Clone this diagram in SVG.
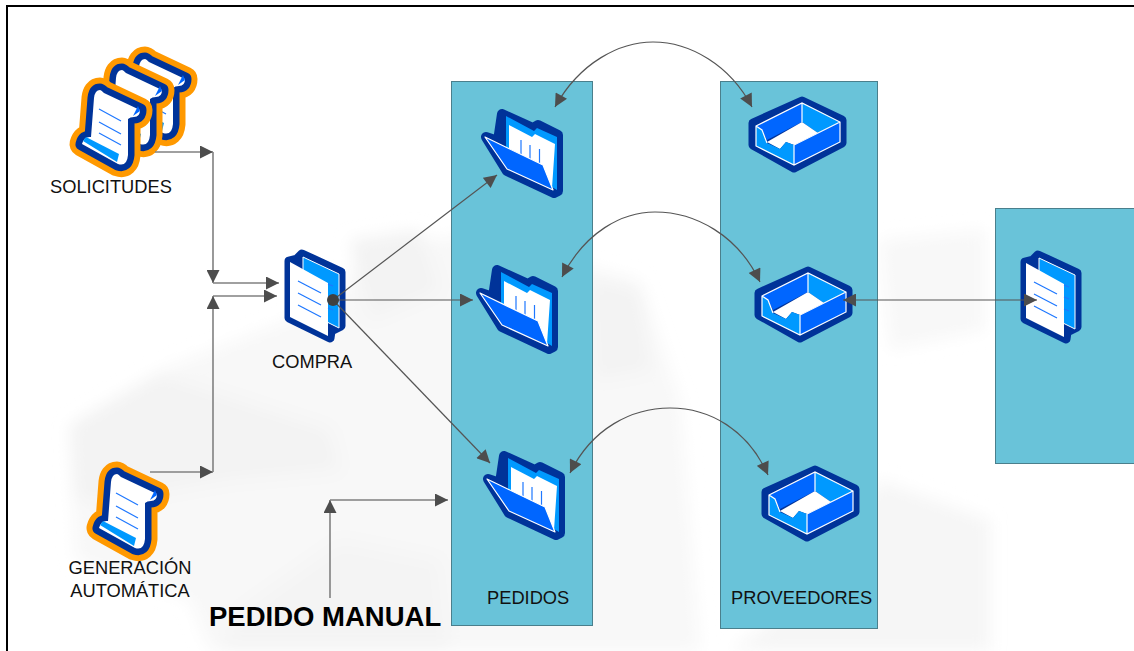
<svg xmlns="http://www.w3.org/2000/svg" width="1134" height="651" viewBox="0 0 1134 651">
<style>
text{font-family:"Liberation Sans",Arial,sans-serif;font-size:18.3px;fill:#111}
.panel{fill:#69c3d9;stroke:#4a7f8c;stroke-width:1}
.c{fill:none;stroke:#555;stroke-width:1.2}
.g{fill:none;stroke:#808080;stroke-width:1.6}
.ln{fill:none;stroke:#1f78ff;stroke-width:1.2}
.dk{fill:#003399;stroke:#003399;stroke-linejoin:round}
</style>
<defs>
<marker id="a" viewBox="0 0 12 12" refX="12" refY="6" markerWidth="14" markerHeight="13" markerUnits="userSpaceOnUse" orient="auto-start-reverse"><path d="M0 0L12 6L0 12Z" fill="#4d4d4d"/></marker>
<filter id="bl" x="-20%" y="-20%" width="140%" height="140%"><feGaussianBlur stdDeviation="8"/></filter>
<path id="sp" d="M37 24Q32 24 31 32L28 71Q21 70 19 78L55 98Q64 101 65 89L65 53Q67 51 71 51Q77 51 77 44L41 27Q38 24 37 24Z"/>
<g id="scroll">
<use href="#sp" fill="#ff9900" stroke="#ff9900" stroke-width="25" stroke-linejoin="round"/>
<use href="#sp" fill="#003399" stroke="#003399" stroke-width="13" stroke-linejoin="round"/>
<use href="#sp" fill="#fff"/>
<path d="M20 75L23 71L56 88L54 96Z" fill="#0099ff"/>
<path d="M70 50L77 45L75 40Z" fill="#0066ff"/>
<path class="ln" d="M36 43L58 55M36 56L58 68M36 67L58 79"/>
</g>
<g id="folder">
<path class="dk" stroke-width="10" d="M42 24L73 38L78 35L98 45L98 101L94 103L47 81L26 47L38 51Z"/>
<path fill="#0099ff" d="M46 26L74 41L77 38L97 47L97 100L46 70Z"/>
<path fill="#fff" d="M49 35L72 47L75 44L95 54L92 98L49 70Z"/>
<path class="ln" stroke-width="1.5" d="M61 50V64M70 55V69M79.500 59V73"/>
<path fill="#0066ff" stroke="#fff" stroke-width="1.200" stroke-linejoin="round" d="M25 47L83 75L93 100L47 79Z"/>
</g>
<g id="tray">
<path class="dk" stroke-width="9" stroke-linejoin="round" d="M67 16L107 35L107 58L59 83L18 60L18 38Z"/>
<path fill="#0066ff" d="M21 41L67 18L67 37L32 55L27 45Z"/>
<path fill="#0099ff" d="M67 18L105 37L83 48L67 37Z"/>
<path fill="#fff" d="M67 37L83 48L59 60L51 57L45 64L32 57Z"/>
<path fill="#0099ff" d="M21 41L27 45L32 58L45 64L51 57L59 60L59 80L21 61Z"/>
<path fill="#0066ff" d="M59 60L105 37L105 57L59 80Z"/>
<path fill="none" stroke="#fff" stroke-width="1.200" d="M21 41L67 18L105 37L105 57L59 80L21 61ZM67 18V37M59 60V80M59 60L105 37M21 41L27 45L32 58"/>
</g>
<g id="doc">
<path class="dk" stroke-width="9" d="M29 31L37 29L42 24L81 42L81 96L71 101L70 108L29 88Z"/>
<path fill="#0099ff" stroke="#fff" stroke-width="1" d="M43 27L79 44L79 98L43 80Z"/>
<path fill="#fff" d="M30 32L68 53L68 106L30 87Z"/>
<path class="ln" d="M38 51L61 63M38 63L61 75M38 75L61 87M68 54L73 56M68 66L73 68M68 78L73 80"/>
</g>
</defs>
<rect width="1134" height="651" fill="#fff"/>
<g id="watermark" filter="url(#bl)">
<path fill="#f8f8f8" d="M360 245L470 235L640 280L680 400L700 651L210 651L190 600L75 560L70 425L160 370L340 300Z"/>
<path fill="#f3f3f3" d="M70 425L160 375L330 430L340 470L230 480L120 500L75 500Z"/>
<path fill="#f3f3f3" d="M350 240L420 230L440 290L370 320Z"/>
<path fill="#f3f3f3" d="M590 280L640 290L650 370L595 380Z"/>
<path fill="#f4f4f4" d="M340 540L440 560L450 651L220 651L240 610Z"/>
<path fill="#f6f6f6" d="M880 480L990 520L990 651L730 651L800 600Z"/>
<path fill="#f8f8f8" d="M880 240L985 230L985 330L890 350Z"/>
</g>
<rect id="frame" x="7" y="6" width="1140" height="660" fill="none" stroke="#000" stroke-width="2"/>
<rect class="panel" x="451.500" y="81.500" width="141" height="544"/>
<rect class="panel" x="720.500" y="81.500" width="157" height="547"/>
<rect class="panel" x="995.500" y="208.500" width="150" height="255"/>
<g id="solicitudes"><use href="#scroll" x="108" y="35"/><use href="#scroll" x="85" y="46"/><use href="#scroll" x="63" y="66"/><text x="50" y="193">SOLICITUDES</text></g>
<g id="generacion"><use href="#scroll" x="80" y="450"/><text x="130" y="574" text-anchor="middle">GENERACIÓN</text><text x="130" y="597" text-anchor="middle">AUTOMÁTICA</text></g>
<g id="compra"><use href="#doc" x="260" y="230"/><text x="272" y="368">COMPRA</text></g>
<g id="pedido1"><use href="#folder" x="460" y="90"/></g>
<g id="pedido2"><use href="#folder" x="455" y="246"/></g>
<g id="pedido3"><use href="#folder" x="462" y="432"/></g>
<g id="pedidos"><text x="487" y="604">PEDIDOS</text></g>
<g id="prov1"><use href="#tray" x="735" y="85"/></g>
<g id="prov2"><use href="#tray" x="741" y="255"/></g>
<g id="prov3"><use href="#tray" x="748" y="454"/></g>
<g id="proveedores"><text x="731" y="604">PROVEEDORES</text></g>
<g id="doc2"><use href="#doc" x="996" y="231"/></g>
<g id="manual"><text x="209" y="626" style="font-size:27.500px;font-weight:bold;fill:#000">PEDIDO MANUAL</text></g>
<g id="connectors">
<path class="g" marker-end="url(#a)" d="M155 152H213"/>
<path class="g" marker-end="url(#a)" d="M213 152V283"/>
<path class="g" marker-end="url(#a)" d="M213 283H279"/>
<path class="g" marker-end="url(#a)" d="M213 296H277"/>
<path class="g" marker-end="url(#a)" d="M150 472H213"/>
<path class="g" marker-end="url(#a)" d="M213 472V296"/>
<path class="g" marker-end="url(#a)" d="M330 598V500"/>
<path class="g" marker-end="url(#a)" d="M330 500H448"/>
<path class="c" marker-end="url(#a)" d="M333 300L497 175"/>
<path class="c" marker-end="url(#a)" d="M333 300H473"/>
<path class="c" marker-end="url(#a)" d="M333 300L490 463"/>
<path class="c" marker-start="url(#a)" marker-end="url(#a)" d="M555 107C580 62 620 42 653 42C690 42 730 65 752 107"/>
<path class="c" marker-start="url(#a)" marker-end="url(#a)" d="M562 277C585 232 622 212 655 212C695 212 738 235 760 282"/>
<path class="c" marker-start="url(#a)" marker-end="url(#a)" d="M570 473C592 428 632 408 670 408C710 408 748 430 768 475"/>
<path class="c" marker-start="url(#a)" marker-end="url(#a)" d="M843 300H1037"/>
<circle cx="333" cy="300" r="6" fill="#404040"/>
</g>
</svg>
